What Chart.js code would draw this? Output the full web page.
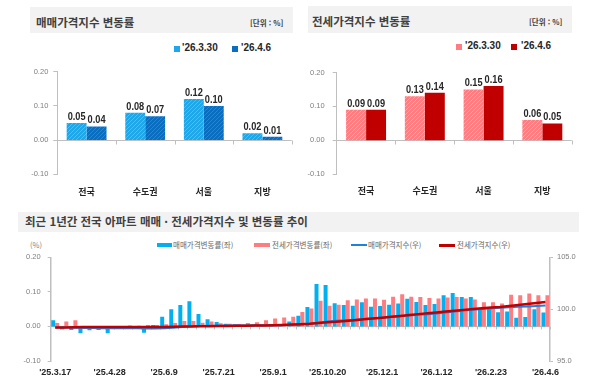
<!DOCTYPE html>
<html lang="ko">
<head>
<meta charset="utf-8">
<script src="https://cdn.jsdelivr.net/npm/chart.js@4.4.1/dist/chart.umd.min.js"></script>
<style>
  html, body { margin: 0; padding: 0; background: #fff; }
  body { position: relative; width: 600px; height: 384px; overflow: hidden; }
  canvas { position: absolute; }
  .box { position: absolute; background: #f2f2f2; }
  .ttl { position: absolute; font: 700 11.5px/15px 'Noto Sans CJK KR', sans-serif; color: #404040; white-space: nowrap; }
  .unit { position: absolute; font: 700 7.5px/12px 'Noto Sans CJK KR', sans-serif; color: #404040; white-space: nowrap; }
  .sw { position: absolute; }
  .lg { position: absolute; font: 700 10px/12px 'Liberation Sans', sans-serif; color: #262626; white-space: nowrap; }
  .lg2 { position: absolute; font: 400 7.5px/12px 'Noto Sans CJK KR', sans-serif; color: #666; white-space: nowrap; }
</style>
</head>
<body>
<div class="box" style="left:30px;top:7px;width:263px;height:26px"></div>
<div class="ttl" style="left:36px;top:15px">매매가격지수 변동률</div>
<div class="unit" style="left:250px;top:17px">[단위 : %]</div>
<div class="sw" style="left:174px;top:46px;width:6px;height:6px;background:#1ea7e9"></div>
<div class="lg" style="left:182px;top:42px">'26.3.30</div>
<div class="sw" style="left:232px;top:46px;width:6px;height:6px;background:#0a6ec0"></div>
<div class="lg" style="left:241px;top:42px">'26.4.6</div>

<div class="box" style="left:308px;top:6px;width:264px;height:27px"></div>
<div class="ttl" style="left:312px;top:14px">전세가격지수 변동률</div>
<div class="unit" style="left:529px;top:16px">[단위 : %]</div>
<div class="sw" style="left:456px;top:44px;width:6px;height:6px;background:#ff7c80"></div>
<div class="lg" style="left:465px;top:40px">'26.3.30</div>
<div class="sw" style="left:511px;top:44px;width:6px;height:6px;background:#c00000"></div>
<div class="lg" style="left:521px;top:40px">'26.4.6</div>

<div class="box" style="left:18px;top:212px;width:561px;height:20px"></div>
<div class="ttl" style="left:25px;top:214px">최근 1년간 전국 아파트 매매 · 전세가격지수 및 변동률 추이</div>
<div class="lg2" style="left:30px;top:239px;color:#7f7f7f">(%)</div>
<div class="sw" style="left:157px;top:243px;width:15px;height:4px;background:#00b0f0"></div>
<div class="lg2" style="left:173px;top:239px">매매가격변동률(좌)</div>
<div class="sw" style="left:254px;top:243px;width:16px;height:4px;background:#ff7c80"></div>
<div class="lg2" style="left:272px;top:239px">전세가격변동률(좌)</div>
<div class="sw" style="left:351px;top:244px;width:16px;height:2px;background:#2080e0"></div>
<div class="lg2" style="left:368px;top:239px">매매가격지수(우)</div>
<div class="sw" style="left:439px;top:244px;width:16px;height:3px;background:#c00000"></div>
<div class="lg2" style="left:457px;top:239px">전세가격지수(우)</div>

<canvas id="sale" width="300" height="140" style="left:0;top:60px"></canvas>
<canvas id="jeonse" width="300" height="140" style="left:300px;top:60px"></canvas>
<canvas id="trend" width="600" height="144" style="left:0;top:240px"></canvas>

<script>
const regions = ['전국', '수도권', '서울', '지방'];
const saleMar30 = [0.05, 0.08, 0.12, 0.02];
const saleApr6 = [0.04, 0.07, 0.10, 0.01];
const jeonseMar30 = [0.09, 0.13, 0.15, 0.06];
const jeonseApr6 = [0.09, 0.14, 0.16, 0.05];

const weeks = [
  "'25.3.17", "'25.3.24", "'25.3.31", "'25.4.7", "'25.4.14", "'25.4.21", "'25.4.28",
  "'25.5.5", "'25.5.12", "'25.5.19", "'25.5.26", "'25.6.2", "'25.6.9", "'25.6.16",
  "'25.6.23", "'25.6.30", "'25.7.7", "'25.7.14", "'25.7.21", "'25.7.28", "'25.8.4",
  "'25.8.11", "'25.8.18", "'25.8.25", "'25.9.1", "'25.9.8", "'25.9.15", "'25.9.22",
  "'25.9.29", "'25.10.13", "'25.10.20", "'25.10.27", "'25.11.3", "'25.11.10", "'25.11.17",
  "'25.11.24", "'25.12.1", "'25.12.8", "'25.12.15", "'25.12.22", "'25.12.29", "'26.1.5",
  "'26.1.12", "'26.1.19", "'26.1.26", "'26.2.2", "'26.2.9", "'26.2.16", "'26.2.23",
  "'26.3.2", "'26.3.9", "'26.3.16", "'26.3.23", "'26.3.30", "'26.4.6"
];
const saleChange = [
  0.018, -0.009, -0.010, -0.020, -0.011, -0.010, -0.020, -0.005, -0.003, 0.000, -0.018,
  0.004, 0.028, 0.050, 0.062, 0.073, 0.036, 0.021, 0.013, 0.008, 0.006, 0.005,
  0.005, 0.005, 0.006, 0.007, 0.014, 0.031, 0.056, 0.123, 0.120, 0.067, 0.062,
  0.060, 0.070, 0.057, 0.059, 0.063, 0.066, 0.080, 0.071, 0.062, 0.065, 0.090,
  0.097, 0.085, 0.085, 0.054, 0.054, 0.041, 0.043, 0.025, 0.027, 0.050, 0.040
];
const jeonseChange = [
  0.010, 0.014, 0.018, 0.000, 0.000, 0.000, 0.000, 0.000, 0.003, 0.002, 0.004,
  0.004, 0.006, 0.010, 0.016, 0.016, 0.011, 0.014, 0.009, 0.008, 0.007, 0.010,
  0.012, 0.018, 0.023, 0.026, 0.028, 0.042, 0.052, 0.074, 0.060, 0.063, 0.076,
  0.078, 0.081, 0.081, 0.077, 0.086, 0.093, 0.086, 0.085, 0.082, 0.081, 0.084,
  0.085, 0.081, 0.078, 0.070, 0.070, 0.066, 0.092, 0.090, 0.095, 0.090, 0.090
];
const saleIndex = [
  98.23, 98.22, 98.21, 98.19, 98.18, 98.17, 98.15, 98.15, 98.15, 98.15, 98.13,
  98.14, 98.16, 98.21, 98.27, 98.34, 98.38, 98.40, 98.41, 98.42, 98.43, 98.43,
  98.44, 98.44, 98.45, 98.46, 98.48, 98.52, 98.57, 98.69, 98.81, 98.87, 98.93,
  98.99, 99.06, 99.12, 99.18, 99.24, 99.31, 99.39, 99.46, 99.52, 99.59, 99.68,
  99.77, 99.86, 99.94, 100.01, 100.08, 100.13, 100.18, 100.22, 100.26, 100.31, 100.36
];
const jeonseIndex = [
  98.22, 98.24, 98.25, 98.27, 98.27, 98.27, 98.27, 98.27, 98.27, 98.28, 98.28,
  98.29, 98.29, 98.30, 98.32, 98.33, 98.34, 98.36, 98.37, 98.38, 98.39, 98.40,
  98.42, 98.43, 98.45, 98.48, 98.51, 98.55, 98.60, 98.67, 98.73, 98.79, 98.86,
  98.94, 99.02, 99.10, 99.18, 99.26, 99.35, 99.44, 99.52, 99.60, 99.68, 99.77,
  99.85, 99.93, 100.01, 100.08, 100.15, 100.21, 100.30, 100.40, 100.50, 100.60, 100.70
];

const GRAY = '#bfbfbf';
const TICK_FONT = { family: "'Liberation Sans', sans-serif", size: 7.5 };

function hatch(base, line) {
  const c = document.createElement('canvas');
  c.width = 4; c.height = 4;
  const g = c.getContext('2d');
  g.fillStyle = base;
  g.fillRect(0, 0, 4, 4);
  g.strokeStyle = line;
  g.lineWidth = 1;
  g.beginPath();
  g.moveTo(0, 4); g.lineTo(4, 0);
  g.moveTo(-1, 1); g.lineTo(1, -1);
  g.moveTo(3, 5); g.lineTo(5, 3);
  g.stroke();
  return g.createPattern(c, 'repeat');
}

// zero line with little ticks between categories
const zeroLine = {
  id: 'zeroLine',
  beforeDatasetsDraw(chart, args, opts) {
    const { ctx, chartArea, scales } = chart;
    const y = Math.round(scales.y.getPixelForValue(0)) + 0.5;
    ctx.save();
    ctx.strokeStyle = GRAY;
    ctx.lineWidth = 1;
    ctx.beginPath();
    ctx.moveTo(chartArea.left, y);
    ctx.lineTo(chartArea.right, y);
    const n = scales.x.ticks.length;
    for (let i = 1; i <= n; i++) {
      const px = Math.round(scales.x.getPixelForValue(i - 0.5)) + 0.5;
      ctx.moveTo(px, y);
      ctx.lineTo(px, y + opts.tick);
    }
    ctx.stroke();
    ctx.restore();
  }
};

// values over the bars, squeezed a bit to look like a narrow face
const valueLabels = {
  id: 'valueLabels',
  afterDatasetsDraw(chart) {
    const { ctx } = chart;
    chart.data.datasets.forEach((ds, di) => {
      chart.getDatasetMeta(di).data.forEach((bar, i) => {
        ctx.save();
        ctx.font = "bold 11.5px 'Liberation Sans', sans-serif";
        ctx.fillStyle = '#262626';
        ctx.textAlign = 'center';
        ctx.textBaseline = 'alphabetic';
        ctx.translate(bar.x, bar.y - 3);
        ctx.scale(0.8, 1);
        ctx.fillText(ds.data[i].toFixed(2), 0, 0);
        ctx.restore();
      });
    });
  }
};

function regionChart(id, first, second, colors, box) {
  return new Chart(document.getElementById(id), {
    type: 'bar',
    data: {
      labels: regions,
      datasets: [
        { label: "'26.3.30", data: first, backgroundColor: colors[0] },
        { label: "'26.4.6", data: second, backgroundColor: colors[1] },
      ],
    },
    plugins: [zeroLine, valueLabels],
    options: {
      responsive: false,
      animation: false,
      layout: { padding: { top: box.top, right: box.right, left: 0, bottom: 0 } },
      datasets: { bar: { categoryPercentage: 0.68, barPercentage: 1 } },
      plugins: { legend: { display: false }, tooltip: { enabled: false }, zeroLine: { tick: 4 } },
      scales: {
        x: {
          grid: { display: false, drawTicks: false },
          border: { display: false },
          ticks: {
            padding: box.labelPad,
            color: '#262626',
            font: { family: "'Noto Sans CJK KR', sans-serif", size: 9, weight: 'bold' },
          },
          afterFit: (s) => { s.height = box.xH; },
        },
        y: {
          min: -0.1,
          max: 0.2,
          ticks: { stepSize: 0.1, padding: box.yPad, color: '#7f7f7f', font: TICK_FONT, callback: (v) => v.toFixed(2) },
          grid: { drawOnChartArea: false, tickLength: 4, color: GRAY },
          border: { color: GRAY },
          afterFit: (s) => { s.width = box.axisW; },
        },
      },
    },
  });
}

regionChart('sale', saleMar30, saleApr6,
  [hatch('#1ea7e9', '#52bdf0'), hatch('#0a6ec0', '#2a84cf')],
  { top: 11.7, right: 8.3, xH: 25.7, labelPad: 12, yPad: 5, axisW: 57.3 });

regionChart('jeonse', jeonseMar30, jeonseApr6,
  [hatch('#ff7c80', '#ffa6a8'), '#c00000'],
  { top: 9.3, right: 28.3, xH: 25.7, labelPad: 11, yPad: 8, axisW: 36.7 });

new Chart(document.getElementById('trend'), {
  type: 'bar',
  data: {
    labels: weeks,
    datasets: [
      { type: 'line', label: '전세가격지수(우)', data: jeonseIndex, yAxisID: 'y2', borderColor: '#c00000', borderWidth: 2.5, pointRadius: 0, order: 0 },
      { type: 'line', label: '매매가격지수(우)', data: saleIndex, yAxisID: 'y2', borderColor: '#2080e0', borderWidth: 2, pointRadius: 0, order: 1 },
      { label: '매매가격변동률(좌)', data: saleChange, backgroundColor: '#00b0f0', order: 2 },
      { label: '전세가격변동률(좌)', data: jeonseChange, backgroundColor: '#ff7c80', order: 2 },
    ],
  },
  plugins: [zeroLine],
  options: {
    responsive: false,
    animation: false,
    layout: { padding: { top: 17.3, left: 0, right: 0, bottom: 0 } },
    datasets: { bar: { categoryPercentage: 0.88, barPercentage: 1 } },
    plugins: { legend: { display: false }, tooltip: { enabled: false }, zeroLine: { tick: 3 } },
    scales: {
      x: {
        grid: { display: false, drawTicks: false },
        border: { display: false },
        ticks: {
          autoSkip: false,
          maxRotation: 0,
          padding: 6.6,
          color: '#262626',
          font: { family: "'Liberation Sans', sans-serif", size: 9, weight: 'bold' },
          callback: (v, i) => (i % 6 === 0 ? weeks[i] : ''),
        },
        afterFit: (s) => { s.height = 23; },
      },
      y: {
        position: 'left',
        min: -0.1,
        max: 0.2,
        ticks: { stepSize: 0.1, padding: 7, color: '#7f7f7f', font: TICK_FONT, callback: (v) => v.toFixed(2) },
        grid: { drawOnChartArea: false, tickLength: 3, color: GRAY },
        border: { color: GRAY, width: 1.5 },
        afterFit: (s) => { s.width = 50.7; },
      },
      y2: {
        position: 'right',
        min: 95,
        max: 105,
        ticks: { stepSize: 5, padding: 4, color: '#7f7f7f', font: TICK_FONT, callback: (v) => v.toFixed(1) },
        grid: { drawOnChartArea: false, tickLength: 3, color: GRAY },
        border: { color: GRAY, width: 1.5 },
        afterFit: (s) => { s.width = 50; },
      },
    },
  },
});
</script>
</body>
</html>
